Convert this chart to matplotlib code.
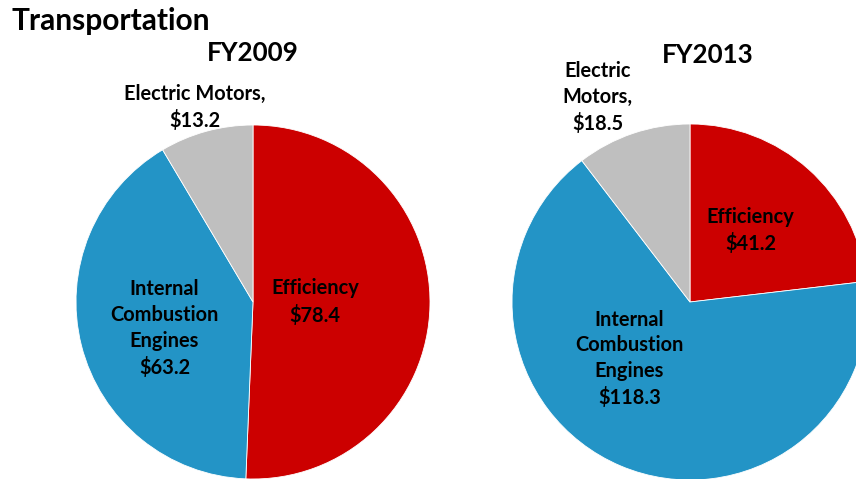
import matplotlib
matplotlib.use("Agg")
import matplotlib.pyplot as plt

plt.rcParams['font.family'] = ['Lato', 'DejaVu Sans']

categories = ["Efficiency", "Internal Combustion Engines", "Electric Motors"]
fy2009 = [78.4, 63.2, 13.2]
fy2013 = [41.2, 118.3, 18.5]
colors = ["#CC0000", "#2394C6", "#BFBFBF"]

W, H = 856, 479
fig = plt.figure(figsize=(W / 100, H / 100), dpi=100)

def px_axes(cx, cy, r):
    left = (cx - r) / W
    bottom = (H - (cy + r)) / H
    ax = fig.add_axes([left, bottom, 2 * r / W, 2 * r / H])
    ax.set_xlim(-1, 1)
    ax.set_ylim(-1, 1)
    ax.set_aspect('equal')
    ax.axis('off')
    return ax

def draw(ax, vals, labels):
    ax.pie(vals, colors=colors, startangle=90, counterclock=False, radius=1,
           wedgeprops=dict(linewidth=0.6, edgecolor='white'))
    ax.set_xlim(-1, 1)
    ax.set_ylim(-1, 1)
    for (txt, x, y) in labels:
        ax.text(x, y, txt, ha='center', va='center', fontsize=14.4,
                fontweight='bold', linespacing=1.36, color='black')

ax1 = px_axes(253, 302, 177)
draw(ax1, fy2009, [
    ("Efficiency\n$%.1f" % fy2009[0], 0.35, 0.0),
    ("Internal\nCombustion\nEngines\n$%.1f" % fy2009[1], -0.50, -0.15),
    ("Electric Motors,\n$%.1f" % fy2009[2], -0.33, 1.10),
])

ax2 = px_axes(690, 302, 178)
draw(ax2, fy2013, [
    ("Efficiency\n$%.1f" % fy2013[0], 0.34, 0.40),
    ("Internal\nCombustion\nEngines\n$%.1f" % fy2013[1], -0.34, -0.32),
    ("Electric\nMotors,\n$%.1f" % fy2013[2], -0.52, 1.15),
])

fig.text(253 / W, 1 - 53 / H, "FY2009", ha='center', va='center',
         fontsize=18.7, fontweight='bold')
fig.text(708 / W, 1 - 55 / H, "FY2013", ha='center', va='center',
         fontsize=18.7, fontweight='bold')
fig.text(11 / W, 1 - 21 / H, "Transportation", ha='left', va='center',
         fontsize=21.5, fontweight='bold')

fig.savefig("out.png", dpi=100)
